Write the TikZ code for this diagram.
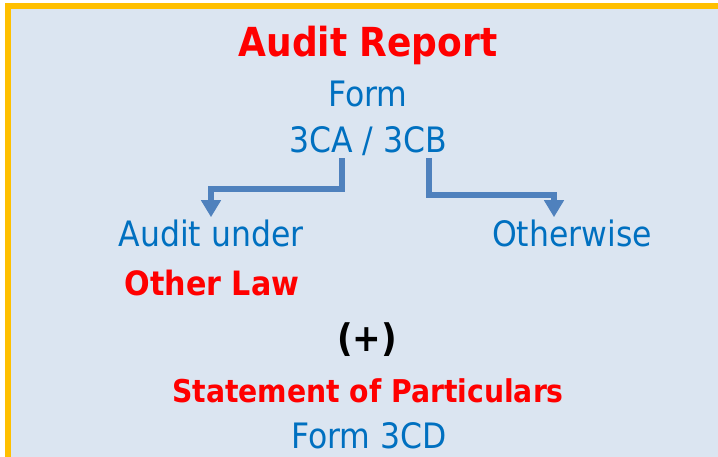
\documentclass[tikz,border=0pt]{standalone}
\usepackage{fontspec}
\setmainfont{DejaVu Sans Condensed}
\usepackage{tikz}
\usetikzlibrary{positioning,arrows.meta,calc}
\usepackage{xcolor}
\definecolor{panel}{HTML}{DBE5F1}
\definecolor{frame}{HTML}{FFC000}
\definecolor{formblue}{HTML}{0070C0}
\definecolor{linkblue}{HTML}{4F81BD}
\definecolor{headred}{HTML}{FF0000}

\begin{document}
\begin{tikzpicture}[
    x=1pt, y=-1pt,
    every node/.style={inner sep=0pt, anchor=base},
    heading/.style={text=headred, font=\fontsize{40}{44}\selectfont\bfseries},
    redtag/.style={text=headred, font=\fontsize{33.5}{38}\selectfont\bfseries},
    formtext/.style={text=formblue, font=\fontsize{35}{40}\selectfont},
    plus/.style={text=black, font=\fontsize{38}{42}\selectfont\bfseries},
    link/.style={-{Triangle[width=19pt,length=17pt]}, line width=5.5pt, draw=linkblue}
]

    % Cornice e sfondo
    \useasboundingbox (0,0) rectangle (718,457);
    \clip (0,0) rectangle (718,457);
    \draw[draw=frame, fill=panel, line width=6pt] (8,6) rectangle (760,500);

    % Titolo
    \node[heading] (report) at (368,57) {Audit Report};
    \node[formtext] (form) at (368,107) {Form};
    \node[formtext] (forms) at (368,153) {3CA / 3CB};

    % Rami
    \node[formtext] (under) at (211,247) {Audit under};
    \node[redtag] (law) at (212,295) {Other Law};
    \node[formtext] (other) at (572,247) {Otherwise};

    % Parte inferiore
    \node[plus] (plus) at (367,352) {(+)};
    \node[redtag, font=\fontsize{31.4}{36}\selectfont\bfseries] (stmt) at (368,402) {Statement of Particulars};
    \node[formtext] (cd) at (369,448) {Form 3CD};

    % Frecce
    \draw[link] ([xshift=-26pt,yshift=-2pt]forms.south) |- (276,189) -| ([yshift=3pt]under.north);
    \draw[link] ([xshift=61pt,yshift=-2pt]forms.south) |- (490,195) -| ([xshift=-18pt,yshift=3pt]other.north);

\end{tikzpicture}
\end{document}
